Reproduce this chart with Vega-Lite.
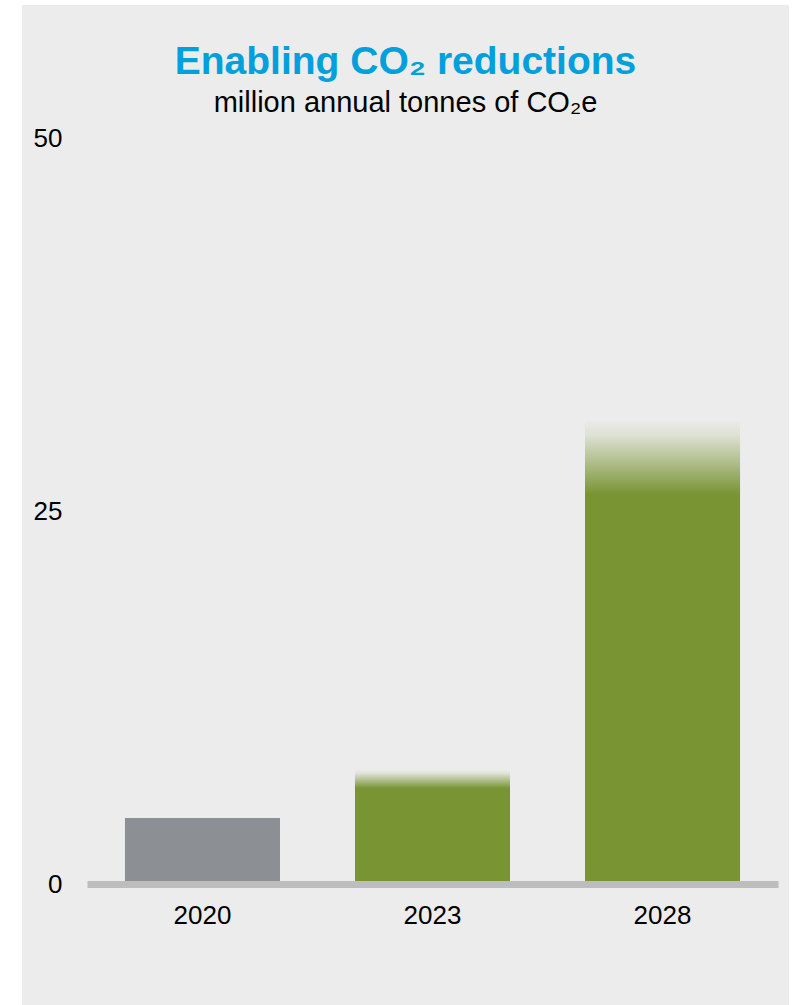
{
  "$schema": "https://vega.github.io/schema/vega-lite/v6.json",
  "width": 767,
  "height": 1000,
  "autosize": {"type": "none"},
  "padding": {"left": 22, "top": 5, "right": 6, "bottom": 0},
  "background": "#ffffff",
  "config": {
    "view": {"fill": "#ececec", "stroke": null},
    "font": "Liberation Sans"
  },
  "title": {
    "text": "Enabling CO₂ reductions",
    "subtitle": "million annual tonnes of CO₂e",
    "anchor": "middle",
    "frame": "group",
    "orient": "top",
    "offset": -113,
    "font": "Liberation Sans",
    "fontSize": 39,
    "fontWeight": "bold",
    "color": "#00a0dc",
    "subtitleFont": "Liberation Sans",
    "subtitleFontSize": 29,
    "subtitleColor": "#000000",
    "subtitlePadding": 7
  },
  "data": {
    "values": [
      {"year": "2020", "value": 4.43, "kind": "actual"},
      {"year": "2023", "value": 7.65, "kind": "target"},
      {"year": "2028", "value": 31.1, "kind": "target"}
    ]
  },
  "encoding": {
    "x": {
      "field": "year",
      "type": "nominal",
      "scale": {"range": [65, 756], "paddingInner": 0.326, "paddingOuter": 0.165},
      "axis": {
        "title": null,
        "labelAngle": 0,
        "ticks": false,
        "domainColor": "#bdbdbd",
        "domainWidth": 7,
        "labelFontSize": 26,
        "labelFont": "Liberation Sans",
        "labelColor": "#000000",
        "labelPadding": 18,
        "offset": -121,
        "zindex": 1
      }
    },
    "y": {
      "field": "value",
      "type": "quantitative",
      "scale": {"domain": [-8.12, 58.99], "nice": false, "zero": false},
      "axis": {
        "title": null,
        "values": [0, 25, 50],
        "ticks": false,
        "domain": false,
        "grid": false,
        "labelFontSize": 26,
        "labelFont": "Liberation Sans",
        "labelColor": "#000000",
        "labelPadding": 0,
        "labelAlign": "right",
        "offset": -40
      }
    },
    "y2": {"datum": 0}
  },
  "layer": [
    {
      "transform": [{"filter": "datum.kind === 'actual'"}],
      "mark": {"type": "bar", "fill": "#8c8f93"}
    },
    {
      "transform": [{"filter": "datum.kind === 'target'"}],
      "mark": {
        "type": "bar",
        "fill": {
          "gradient": "linear",
          "x1": 0, "y1": 0, "x2": 0, "y2": 1,
          "stops": [
            {"offset": 0, "color": "#ebebe8"},
            {"offset": 0.03, "color": "#dfe2d6"},
            {"offset": 0.16, "color": "#789433"},
            {"offset": 1, "color": "#789433"}
          ]
        }
      }
    }
  ]
}
